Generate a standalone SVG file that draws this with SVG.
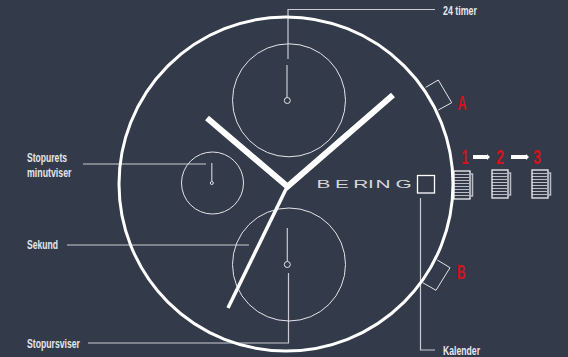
<svg xmlns="http://www.w3.org/2000/svg" width="568" height="357" viewBox="0 0 568 357">
<defs>
<style>
.lbl{font-family:"Liberation Sans",Arial,sans-serif;font-weight:700;font-size:13px;fill:#e6e7ea}
.red{font-family:"Liberation Sans",Arial,sans-serif;font-weight:700;font-size:20.500px;fill:#d3121c}
.dial{fill:none;stroke:#e4e5e8;stroke-width:1}
.lead{fill:none;stroke:#c9cbd0;stroke-width:1.2}
.hand{stroke:#fff;fill:none}
.rib{stroke:#b9bcc2;stroke-width:1.2}
.box{fill:none;stroke:#fff;stroke-width:1.2}
.bump{fill:none;stroke:#b9bcc2;stroke-width:1.5}
</style>
<g id="crownShape">
<path class="rib" d="M0 3.500H15M0 6.500H15M0 9.500H15M0 12.500H15M0 15.500H15M0 18.500H15M0 21.500H15M0 24.500H15"/>
<rect class="box" x="0" y="0" width="16" height="28"/>
<path class="bump" d="M16 3H18.500V25H16"/>
</g>
</defs>
<rect width="568" height="357" fill="#333a4a"/>
<g id="connectors">
<path class="lead" d="M435 9.500H288V59"/>
<path class="lead" d="M83 164H206"/>
<path class="lead" d="M67 245H249"/>
<path class="lead" d="M88 343H288.500V273"/>
<path class="lead" d="M420.500 198V350H435"/>
</g>
<g id="case"><circle cx="286" cy="184" r="167" fill="none" stroke="#fff" stroke-width="3"/></g>
<g id="dial-top"><circle class="dial" cx="289" cy="100.300" r="56.500"/><path class="lead" d="M287 65V97.500"/><circle class="dial" cx="287.300" cy="100.500" r="3"/></g>
<g id="dial-left"><circle class="dial" cx="212.500" cy="183" r="31"/><path class="lead" d="M211.800 163V181"/><circle class="dial" cx="211.800" cy="183" r="1.500"/></g>
<g id="dial-bottom"><circle class="dial" cx="289" cy="264.500" r="56.500"/><path class="lead" d="M287.300 228V261"/><circle class="dial" cx="287.300" cy="264.500" r="3"/></g>
<g id="hands">
<path class="hand" stroke-width="6" d="M207 118L287.500 186.500L393 95"/>
<path class="hand" stroke-width="3.500" d="M287.500 186L228 308"/>
</g>
<g id="logo">
<text transform="scale(1.9 1)" y="188" x="166.600 176.300 185.900 193.700 197.700 208.200" font-family="Liberation Sans,Arial,sans-serif" font-size="11" fill="#d5d7db">BERING</text>
</g>
<g id="date"><rect x="417.500" y="175.500" width="17" height="17.500" fill="none" stroke="#fff" stroke-width="1.300"/></g>
<g id="pusher-a"><path fill="none" stroke="#e4e5e8" stroke-width="1" d="M425.700 87.300L438.300 80L451.700 102.700L438.300 110"/><text class="red" x="457.500" y="109.500" textLength="9" lengthAdjust="spacingAndGlyphs">A</text></g>
<g id="pusher-b"><path fill="none" stroke="#e4e5e8" stroke-width="1" d="M437.300 260L450 267.700L436 290.300L422.700 282.700"/><text class="red" x="457" y="279" textLength="8.500" lengthAdjust="spacingAndGlyphs">B</text></g>
<g id="crown-1"><use href="#crownShape" x="454" y="171"/><text class="red" x="461.500" y="163.500" textLength="7" lengthAdjust="spacingAndGlyphs">1</text></g>
<g id="crown-2"><use href="#crownShape" x="492" y="170"/><text class="red" x="496" y="163.500" textLength="8" lengthAdjust="spacingAndGlyphs">2</text></g>
<g id="crown-3"><use href="#crownShape" x="532" y="170"/><text class="red" x="533" y="163.500" textLength="8" lengthAdjust="spacingAndGlyphs">3</text></g>
<g id="arrows" fill="#fff">
<path d="M473 155H487V154L490 157L487 160V159H473Z"/>
<path d="M511 155H526V154L529 157L526 160V159H511Z"/>
</g>
<g id="labels">
<text class="lbl" x="443" y="14.500" textLength="34" lengthAdjust="spacingAndGlyphs">24 timer</text>
<text class="lbl" x="27" y="161.500" textLength="40" lengthAdjust="spacingAndGlyphs">Stopurets</text>
<text class="lbl" x="27" y="177" textLength="44.500" lengthAdjust="spacingAndGlyphs">minutviser</text>
<text class="lbl" x="27" y="249" textLength="31" lengthAdjust="spacingAndGlyphs">Sekund</text>
<text class="lbl" x="27" y="348" textLength="53" lengthAdjust="spacingAndGlyphs">Stopursviser</text>
<text class="lbl" x="443" y="355" textLength="37" lengthAdjust="spacingAndGlyphs">Kalender</text>
</g>
</svg>
